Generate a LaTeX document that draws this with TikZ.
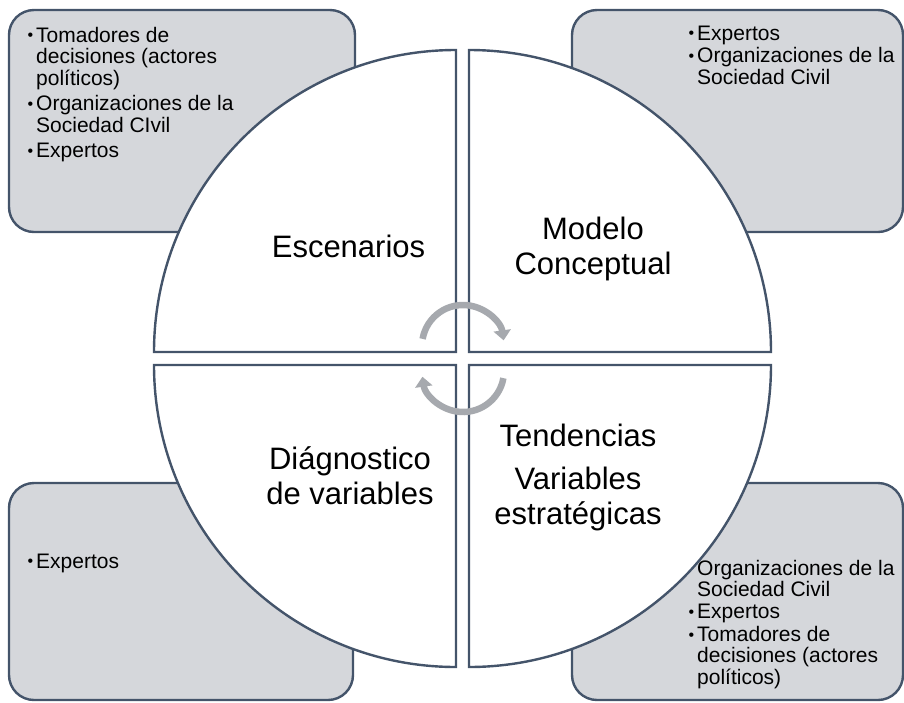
\documentclass[tikz,border=0pt]{standalone}
\usepackage{fontspec}
\setmainfont{Liberation Sans}
\usetikzlibrary{arrows.meta}
\definecolor{slate}{HTML}{44546A}
\definecolor{boxgray}{HTML}{D5D7DB}
\definecolor{arrowgray}{HTML}{A6A9AE}

% small bullet in a 10pt wide box
\newcommand{\blt}{\makebox[10pt][l]{\kern1.5pt\raisebox{1.2pt}{\fontsize{16}{16}\selectfont\textbullet}}}

\begin{document}
\begin{tikzpicture}[x=1pt,y=-1pt,
  infobox/.style={draw=slate, line width=2.4pt, fill=boxgray, rounded corners=25pt},
  quad/.style={draw=slate, line width=2.4pt, fill=white},
  bigtext/.style={font=\fontsize{31}{35}\selectfont, align=center, inner sep=0pt},
  smalltext/.style={font=\fontsize{21}{21.5}\selectfont, inner sep=0pt, anchor=base west},
  cyclearrow/.style={draw=arrowgray, line width=6.5pt, -{Triangle[width=17pt,length=10pt]}}]

\useasboundingbox (0,0) rectangle (904,702);
\pgfmathsetmacro{\rad}{302}

% Draw the four grey boxes behind the circle
\draw[infobox] (9,10) rectangle (355,232);
\draw[infobox] (572,10) rectangle (903,232);
\draw[infobox] (9,483) rectangle (353,700);
\draw[infobox] (572,483) rectangle (903,700);

% Draw the four quarters of the circle
\draw[quad] (456,352) -- (456-\rad,352) arc[start angle=180, end angle=270, radius=\rad] -- cycle;
\draw[quad] (469,352) -- (469,352-\rad) arc[start angle=270, end angle=360, radius=\rad] -- cycle;
\draw[quad] (469,365) -- (469+\rad,365) arc[start angle=0, end angle=90, radius=\rad] -- cycle;
\draw[quad] (456,365) -- (456,365+\rad) arc[start angle=90, end angle=180, radius=\rad] -- cycle;

% circular arrows in the middle
\coordinate (topc) at (463,346);
\coordinate (botc) at (463,371);
\draw[cyclearrow] ([shift={(190:41)}]topc) arc[start angle=190, end angle=352, radius=41];
\draw[cyclearrow] ([shift={(10:41)}]botc) arc[start angle=10, end angle=172, radius=41];

% quarter titles
\node[bigtext, anchor=base] (escenarios) at (348.5,257) {Escenarios};
\node[bigtext] (modelo) at (593,248.5) {Modelo\\Conceptual};
\node[bigtext] (tendencias) at (578,477) {Tendencias\\[8pt]Variables\\estratégicas};
\node[bigtext] (diagnostico) at (350,476) {Diágnostico\\de variables};

% actors in each box
\node[smalltext] (actTL) at (26,42) {\begin{tabular}[t]{@{}l@{}l@{}}
  \blt & Tomadores de\\
       & decisiones (actores\\
       & políticos)\\[3.5pt]
  \blt & Organizaciones de la\\
       & Sociedad CIvil\\[4pt]
  \blt & Expertos
\end{tabular}};
\node[smalltext] (actTR) at (687,40) {\begin{tabular}[t]{@{}l@{}l@{}}
  \blt & Expertos\\[1pt]
  \blt & Organizaciones de la\\
       & Sociedad Civil
\end{tabular}};
\node[smalltext] (actBL) at (26,568) {\blt Expertos};
\node[smalltext, font=\fontsize{21}{20.5}\selectfont] (actBR) at (687,575) {\begin{tabular}[t]{@{}l@{}l@{}}
  \makebox[10pt]{} & Organizaciones de la\\
       & Sociedad Civil\\[2pt]
  \blt & Expertos\\[1pt]
  \blt & Tomadores de\\
       & decisiones (actores\\
       & políticos)
\end{tabular}};

\end{tikzpicture}
\end{document}
